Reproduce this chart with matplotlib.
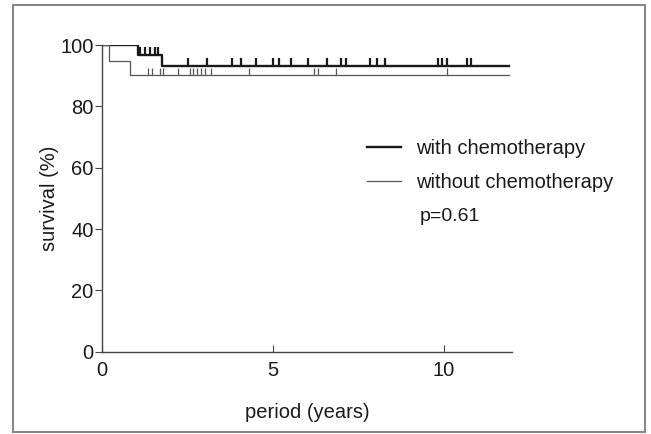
import numpy as np
import matplotlib.pyplot as plt
from matplotlib.patches import Rectangle
from matplotlib.path import Path

plt.rcParams['font.family'] = ['Liberation Sans', 'DejaVu Sans']

# step curves (years, survival %)
with_times = [0, 1.06, 1.75, 11.9]
with_surv = [100, 96.8, 93.2, 93.2]
without_times = [0, 0.2, 0.82, 11.9]
without_surv = [100, 94.8, 90.3, 90.3]

# censored observations
with_censor = [1.11, 1.26, 1.40, 1.55, 1.65, 2.52, 3.06, 3.79, 4.06, 4.50,
               5.01, 5.18, 5.52, 6.03, 6.57, 6.98, 7.13, 7.84, 8.06, 8.28,
               9.83, 9.96, 10.10, 10.68, 10.80]
without_censor = [1.35, 1.45, 1.69, 1.79, 2.23, 2.57, 2.67, 2.77, 2.91, 3.00,
                  3.20, 4.31, 6.19, 6.31, 6.86, 10.10]

x_ticks = [0, 5, 10]
y_ticks = [0, 20, 40, 60, 80, 100]
p_text = "p=0.61"


def surv_at(times, surv, t):
    idx = np.searchsorted(times, t, side="right") - 1
    return np.array(surv)[idx]


# vertical tick going up from the curve
tick_up = Path([(0, 0), (0, 1)])

fig = plt.figure(figsize=(6.51, 4.34), dpi=100)
ax = fig.add_axes([0.1567, 0.1896, 0.630, 0.7067])

ax.step(with_times, with_surv, where="post", color="#1a1a1a", lw=1.7, label="with chemotherapy")
ax.step(without_times, without_surv, where="post", color="#555555", lw=0.9, label="without chemotherapy")

ax.plot(with_censor, surv_at(with_times, with_surv, with_censor), ls="none",
        marker=tick_up, ms=12, mew=1.6, mec="#1a1a1a")
ax.plot(without_censor, surv_at(without_times, without_surv, without_censor), ls="none",
        marker=tick_up, ms=10, mew=0.9, mec="#555555")

ax.set_xlim(0, 12)
ax.set_ylim(0, 100)
ax.set_xticks(x_ticks)
ax.set_yticks(y_ticks)
ax.spines["top"].set_visible(False)
ax.spines["right"].set_visible(False)
for s in ["left", "bottom"]:
    ax.spines[s].set_color("#444444")
    ax.spines[s].set_linewidth(1.0)
ax.tick_params(axis="y", direction="out", length=5, color="#444444", labelsize=14.5, pad=1,
               labelcolor="#1a1a1a")
ax.tick_params(axis="x", direction="in", length=5, color="#444444", labelsize=14.5, pad=6.5,
               labelcolor="#1a1a1a")
ax.set_xlabel("period (years)", fontsize=14.5, labelpad=17, color="#1a1a1a")
ax.set_ylabel("survival (%)", fontsize=14.5, labelpad=1, color="#1a1a1a")

leg = ax.legend(loc="upper left", bbox_to_anchor=(0.646, 0.692), frameon=False,
                fontsize=14.5, handlelength=1.7, handletextpad=0.72, labelspacing=0.7,
                borderpad=0, borderaxespad=0)
for t in leg.get_texts():
    t.set_color("#1a1a1a")
ax.text(0.774, 0.442, p_text, transform=ax.transAxes, fontsize=14, color="#1a1a1a",
        va="center")

fig.patches.append(Rectangle((13 / 651, 1 - 432 / 434), 632 / 651, 427 / 434,
                             transform=fig.transFigure, fill=False,
                             edgecolor="#888888", lw=1.5))

fig.savefig("out.png", dpi=100)
